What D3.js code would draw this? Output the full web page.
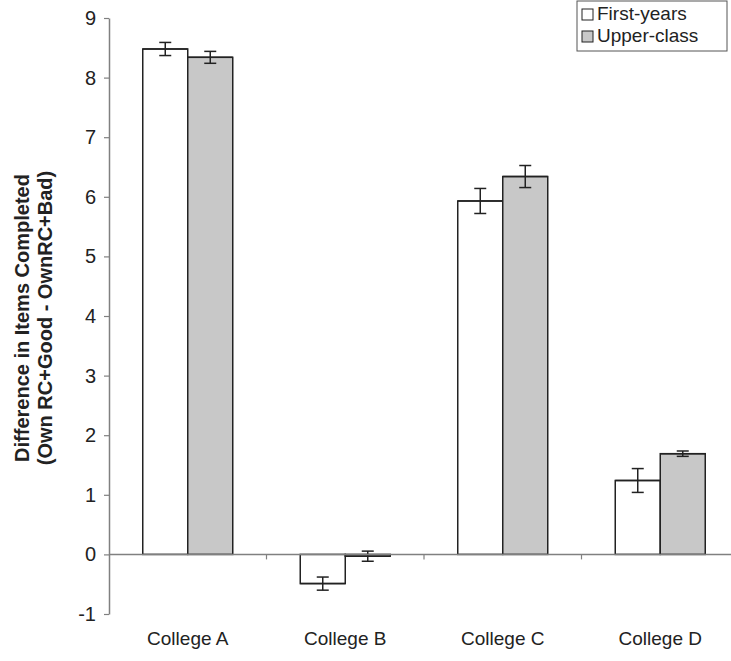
<!DOCTYPE html>
<html>
<head>
<meta charset="utf-8">
<script src="https://cdn.jsdelivr.net/npm/d3@7"></script>
<style>
  body { margin: 0; background: #fff; }
  text { font-family: "Liberation Sans", Arial, sans-serif; fill: #222; }
</style>
</head>
<body>
<script>
// chart data
const colleges = ["College A", "College B", "College C", "College D"];
const groups = ["First-years", "Upper-class"];
const firstYears = [8.48, -0.49, 5.93, 1.24];
const upperClass = [8.34, -0.03, 6.34, 1.69];
const firstErr = [0.11, 0.11, 0.21, 0.20];
const upperErr = [0.10, 0.085, 0.185, 0.045];
const yTicks = [-1, 0, 1, 2, 3, 4, 5, 6, 7, 8, 9];

let svgWidth = 731;
let svgHeight = 661;

let svg = d3.select("body")
    .append("svg")
    .attr("width", svgWidth)
    .attr("height", svgHeight);

// scales
let xScale = d3.scaleBand()
    .domain(colleges)
    .range([109, 739])
    .paddingInner(0.42857)
    .paddingOuter(0.2143);

let xSub = d3.scaleBand()
    .domain(groups)
    .range([0, xScale.bandwidth()]);

let yScale = d3.scaleLinear()
    .domain([-1, 9])
    .range([614, 18]);

let fills = d3.scaleOrdinal().domain(groups).range(["#ffffff", "#c8c8c8"]);

// rows for the bars
let rows = [];
colleges.forEach(function(c, i) {
    rows.push({college: c, group: groups[0], value: firstYears[i], err: firstErr[i]});
    rows.push({college: c, group: groups[1], value: upperClass[i], err: upperErr[i]});
});

// y axis
let leftAxis = d3.axisLeft(yScale)
    .tickValues(yTicks)
    .tickFormat(d => String(d))
    .tickSize(5)
    .tickPadding(8)
    .tickSizeOuter(0);

let yAxisG = svg.append("g")
    .attr("transform", "translate(109,0)")
    .call(leftAxis);
yAxisG.select(".domain").attr("stroke", "#808080").attr("stroke-width", 1.5);
yAxisG.selectAll(".tick line").attr("stroke", "#808080").attr("stroke-width", 1.2);
yAxisG.selectAll(".tick text")
    .attr("font-size", 20)
    .attr("fill", "#222")
    .style("font-family", "Liberation Sans, Arial, sans-serif");

// bars
let bar = svg.selectAll(".bar")
    .data(rows)
    .enter()
    .append("g")
    .classed("bar", true);

bar.append("rect")
    .attr("x", d => xScale(d.college) + xSub(d.group))
    .attr("width", xSub.bandwidth())
    .attr("y", d => yScale(Math.max(0, d.value)))
    .attr("height", d => Math.abs(yScale(d.value) - yScale(0)))
    .attr("fill", d => fills(d.group))
    .attr("stroke", "#222")
    .attr("stroke-width", 1.5);

// x axis line at zero with category boundary ticks
svg.append("line")
    .attr("x1", 109)
    .attr("x2", svgWidth)
    .attr("y1", yScale(0))
    .attr("y2", yScale(0))
    .attr("stroke", "#808080")
    .attr("stroke-width", 1.5);

let gap = xScale.step() - xScale.bandwidth();
svg.selectAll(".xtick")
    .data(colleges)
    .enter()
    .append("line")
    .attr("x1", d => xScale(d) + xScale.bandwidth() + gap / 2)
    .attr("x2", d => xScale(d) + xScale.bandwidth() + gap / 2)
    .attr("y1", yScale(0))
    .attr("y2", yScale(0) + 5)
    .attr("stroke", "#808080")
    .attr("stroke-width", 1.2);

// bar value edge drawn again so the zero line sits under it
bar.append("line")
    .attr("x1", d => xScale(d.college) + xSub(d.group))
    .attr("x2", d => xScale(d.college) + xSub(d.group) + xSub.bandwidth())
    .attr("y1", d => yScale(d.value))
    .attr("y2", d => yScale(d.value))
    .attr("stroke", "#222")
    .attr("stroke-width", 1.5);

// error bars
let cx = d => xScale(d.college) + xSub(d.group) + xSub.bandwidth() / 2;
bar.append("line")
    .attr("x1", cx).attr("x2", cx)
    .attr("y1", d => yScale(d.value + d.err))
    .attr("y2", d => yScale(d.value - d.err))
    .attr("stroke", "#222")
    .attr("stroke-width", 1.5);
[1, -1].forEach(function(s) {
    bar.append("line")
        .attr("x1", d => cx(d) - 6)
        .attr("x2", d => cx(d) + 6)
        .attr("y1", d => yScale(d.value + s * d.err))
        .attr("y2", d => yScale(d.value + s * d.err))
        .attr("stroke", "#222")
        .attr("stroke-width", 1.5);
});

// category labels
svg.selectAll(".xlabel")
    .data(colleges)
    .enter()
    .append("text")
    .attr("x", d => xScale(d) + xScale.bandwidth() / 2)
    .attr("y", 645)
    .attr("text-anchor", "middle")
    .attr("font-size", 19)
    .text(d => d);

// y axis title
let yTitle = svg.append("text")
    .attr("transform", "translate(29,318) rotate(-90)")
    .attr("text-anchor", "middle")
    .attr("font-size", 20)
    .attr("font-weight", "bold");
yTitle.append("tspan").attr("x", 0).attr("y", 0).text("Difference in Items Completed");
yTitle.append("tspan").attr("x", 0).attr("y", 23).text("(Own RC+Good - OwnRC+Bad)");

// legend
let legend = svg.append("g").attr("transform", "translate(577,1)");
legend.append("rect")
    .attr("width", 150)
    .attr("height", 50)
    .attr("fill", "#fff")
    .attr("stroke", "#555")
    .attr("stroke-width", 1);
let item = legend.selectAll(".item")
    .data(groups)
    .enter()
    .append("g")
    .attr("transform", (d, i) => `translate(5, ${8 + i * 22})`);
item.append("rect")
    .attr("width", 11)
    .attr("height", 11)
    .attr("fill", d => fills(d))
    .attr("stroke", "#222")
    .attr("stroke-width", 1);
item.append("text")
    .attr("x", 15)
    .attr("y", 11)
    .attr("font-size", 19)
    .text(d => d);
</script>
</body>
</html>
